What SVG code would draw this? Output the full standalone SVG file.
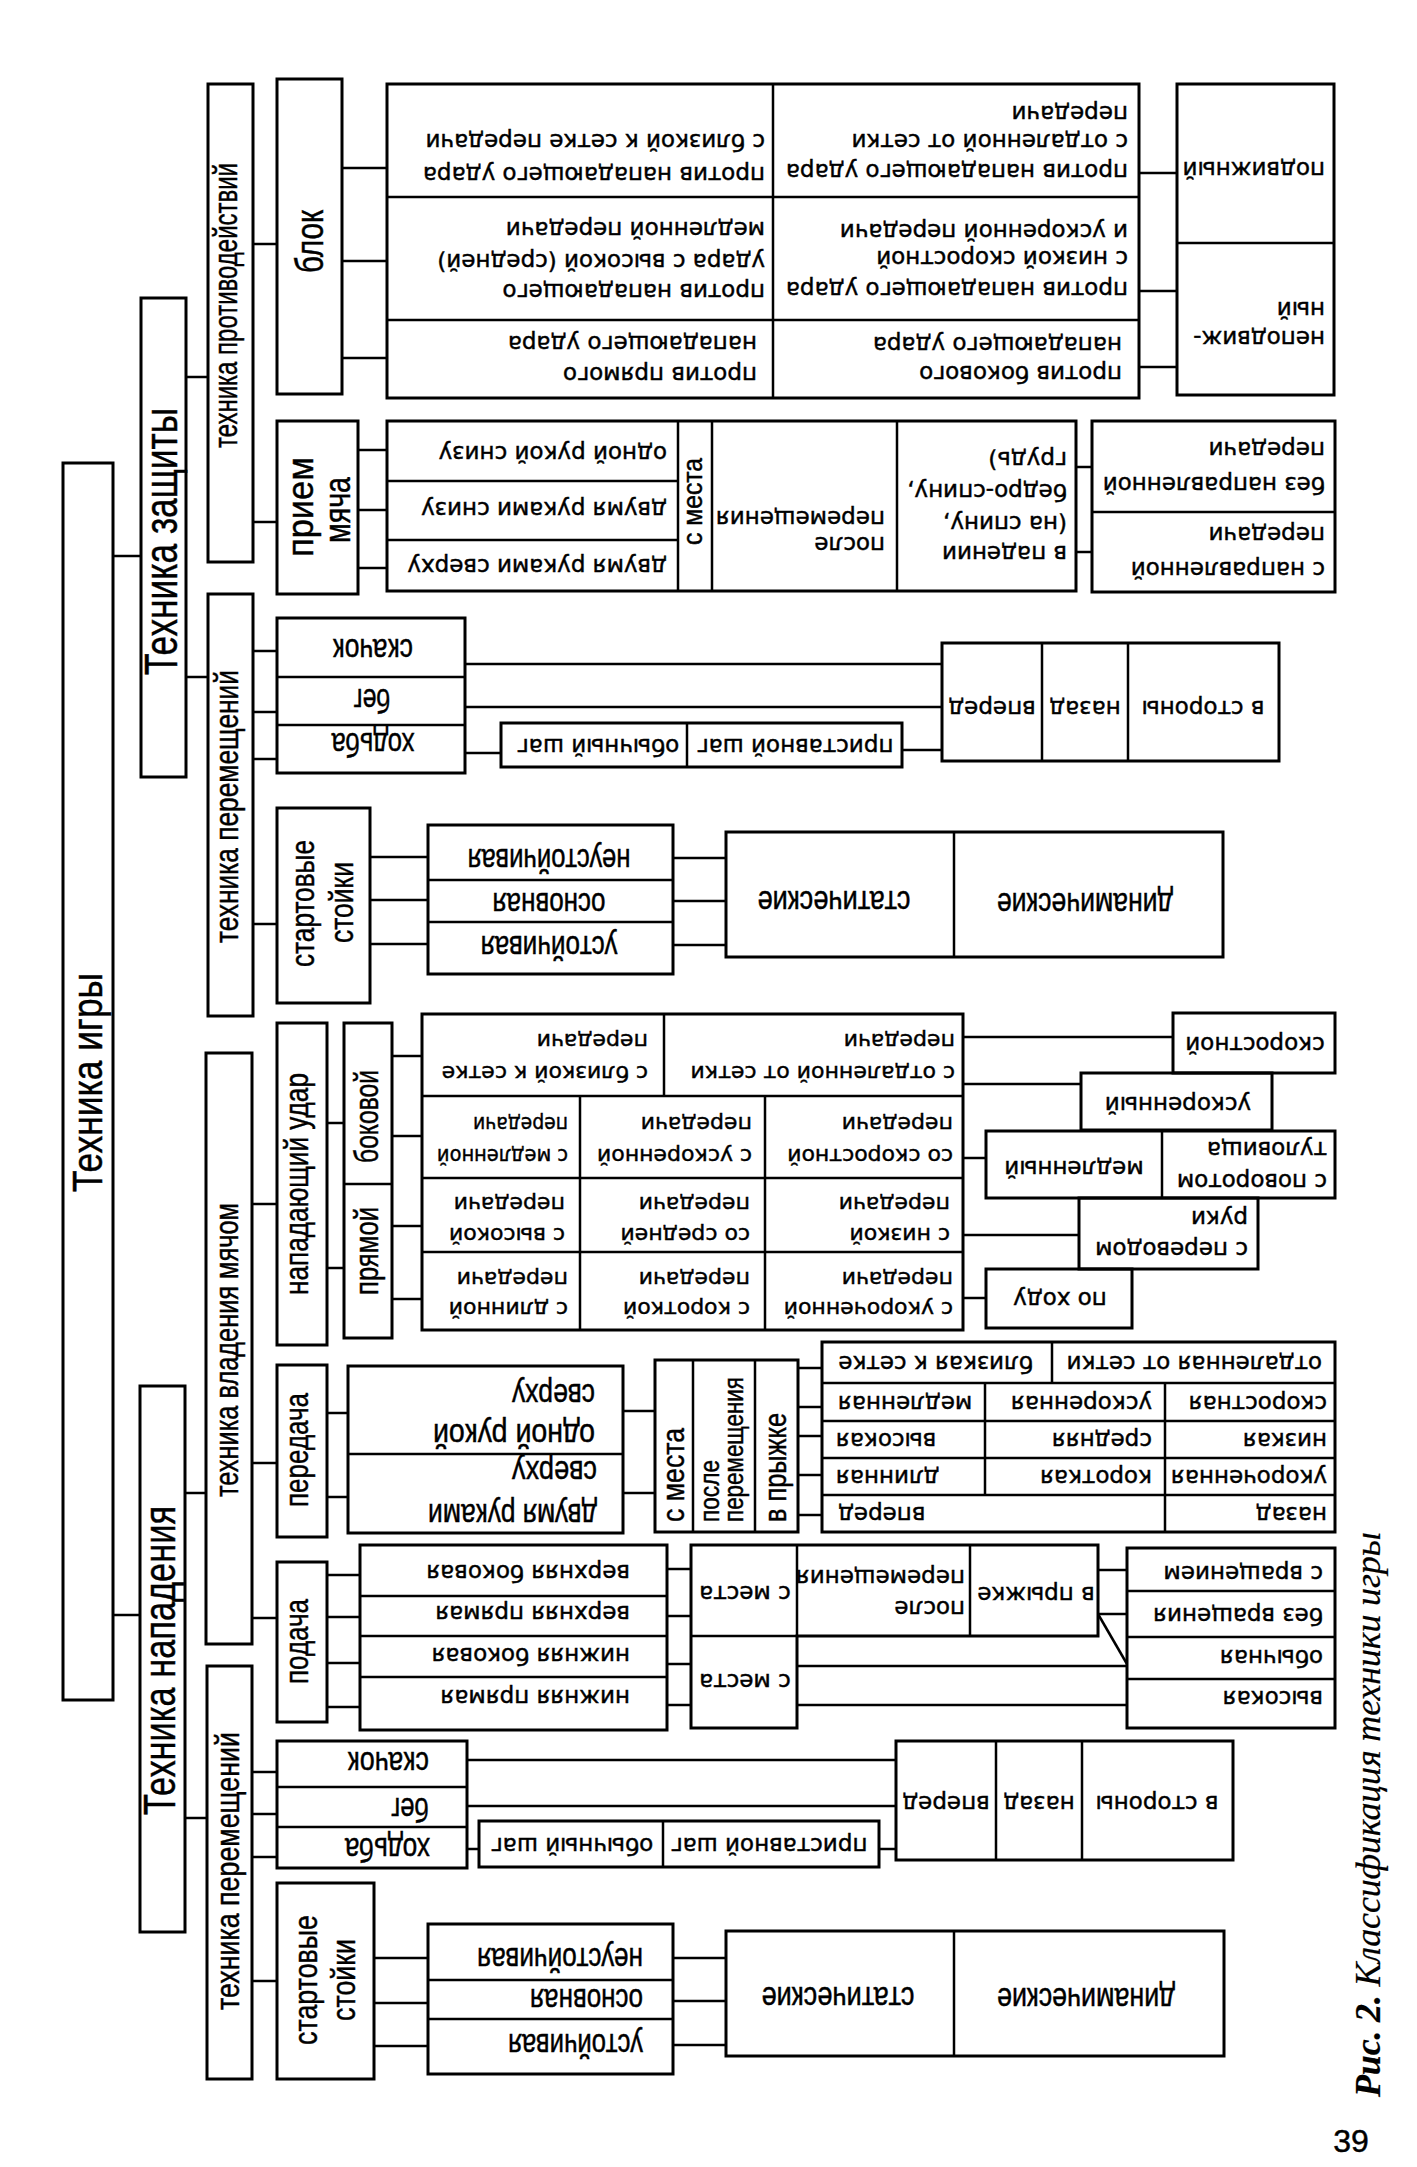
<svg xmlns="http://www.w3.org/2000/svg" width="1417" height="2167" viewBox="0 0 1417 2167">
<style>
.b{fill:none;stroke:#000;stroke-width:3}
.d{fill:none;stroke:#000;stroke-width:2.5}
#connectors line{stroke:#000;stroke-width:2.5}
text{fill:#000;stroke:#000;stroke-width:0.45}
.a{font-family:"DejaVu Sans",sans-serif;font-size:23px}
.s{font-size:22px}
.n{font-family:"Liberation Sans",Arial,sans-serif;font-size:33px}
.v{font-family:"Liberation Sans",Arial,sans-serif;font-size:33px}
.m{text-anchor:middle}
.e{text-anchor:end}
.cap{font-family:"Liberation Serif","Times New Roman",serif;font-style:italic;font-size:36px;stroke-width:0.2}
.pg{font-family:"Liberation Sans",Arial,sans-serif;font-size:32px}
</style>
<rect x="0" y="0" width="1417" height="2167" fill="#fff"/>

<g id="connectors">
<line x1="113" y1="556" x2="141" y2="556"/>
<line x1="113" y1="1615" x2="140" y2="1615"/>
<line x1="186" y1="377" x2="208" y2="377"/>
<line x1="186" y1="677" x2="208" y2="677"/>
<line x1="253" y1="244" x2="277" y2="244"/>
<line x1="253" y1="522" x2="277" y2="522"/>
<line x1="342" y1="168" x2="387" y2="168"/>
<line x1="342" y1="261" x2="387" y2="261"/>
<line x1="342" y1="358" x2="387" y2="358"/>
<line x1="1139" y1="173" x2="1177" y2="173"/>
<line x1="1139" y1="291" x2="1177" y2="291"/>
<line x1="1139" y1="367" x2="1177" y2="367"/>
<line x1="358" y1="450" x2="387" y2="450"/>
<line x1="358" y1="510" x2="387" y2="510"/>
<line x1="358" y1="568" x2="387" y2="568"/>
<line x1="1076" y1="467" x2="1092" y2="467"/>
<line x1="1076" y1="552" x2="1092" y2="552"/>
<line x1="253" y1="651" x2="277" y2="651"/>
<line x1="253" y1="712" x2="277" y2="712"/>
<line x1="253" y1="759" x2="277" y2="759"/>
<line x1="465" y1="664" x2="942" y2="664"/>
<line x1="465" y1="707" x2="942" y2="707"/>
<line x1="465" y1="753" x2="501" y2="753"/>
<line x1="902" y1="750" x2="942" y2="750"/>
<line x1="253" y1="924" x2="277" y2="924"/>
<line x1="370" y1="857" x2="428" y2="857"/>
<line x1="370" y1="900" x2="428" y2="900"/>
<line x1="370" y1="944" x2="428" y2="944"/>
<line x1="673" y1="858" x2="726" y2="858"/>
<line x1="673" y1="901" x2="726" y2="901"/>
<line x1="673" y1="945" x2="726" y2="945"/>
<line x1="185" y1="1493" x2="206" y2="1493"/>
<line x1="185" y1="1818" x2="207" y2="1818"/>
<line x1="252" y1="1204" x2="277" y2="1204"/>
<line x1="252" y1="1463" x2="277" y2="1463"/>
<line x1="252" y1="1618" x2="277" y2="1618"/>
<line x1="327" y1="1123" x2="344" y2="1123"/>
<line x1="327" y1="1268" x2="344" y2="1268"/>
<line x1="392" y1="1056" x2="422" y2="1056"/>
<line x1="392" y1="1136" x2="422" y2="1136"/>
<line x1="392" y1="1226" x2="422" y2="1226"/>
<line x1="392" y1="1299" x2="422" y2="1299"/>
<line x1="963" y1="1037" x2="1173" y2="1037"/>
<line x1="963" y1="1084" x2="1081" y2="1084"/>
<line x1="963" y1="1158" x2="986" y2="1158"/>
<line x1="963" y1="1235" x2="1079" y2="1235"/>
<line x1="963" y1="1298" x2="986" y2="1298"/>
<line x1="327" y1="1413" x2="348" y2="1413"/>
<line x1="327" y1="1497" x2="348" y2="1497"/>
<line x1="623" y1="1411" x2="655" y2="1411"/>
<line x1="623" y1="1493" x2="655" y2="1493"/>
<line x1="798" y1="1368" x2="822" y2="1368"/>
<line x1="798" y1="1407" x2="822" y2="1407"/>
<line x1="798" y1="1436" x2="822" y2="1436"/>
<line x1="798" y1="1475" x2="822" y2="1475"/>
<line x1="798" y1="1515" x2="822" y2="1515"/>
<line x1="327" y1="1575" x2="360" y2="1575"/>
<line x1="327" y1="1617" x2="360" y2="1617"/>
<line x1="327" y1="1663" x2="360" y2="1663"/>
<line x1="327" y1="1707" x2="360" y2="1707"/>
<line x1="667" y1="1569" x2="691" y2="1569"/>
<line x1="667" y1="1616" x2="691" y2="1616"/>
<line x1="667" y1="1664" x2="691" y2="1664"/>
<line x1="667" y1="1705" x2="691" y2="1705"/>
<line x1="1098" y1="1570" x2="1127" y2="1570"/>
<line x1="1098" y1="1614" x2="1127" y2="1614"/>
<line x1="1098" y1="1614" x2="1127" y2="1664"/>
<line x1="797" y1="1666" x2="1127" y2="1666"/>
<line x1="797" y1="1705" x2="1127" y2="1705"/>
<line x1="252" y1="1772" x2="277" y2="1772"/>
<line x1="252" y1="1814" x2="277" y2="1814"/>
<line x1="252" y1="1857" x2="277" y2="1857"/>
<line x1="467" y1="1760" x2="896" y2="1760"/>
<line x1="467" y1="1806" x2="896" y2="1806"/>
<line x1="467" y1="1849" x2="479" y2="1849"/>
<line x1="879" y1="1849" x2="896" y2="1849"/>
<line x1="252" y1="1981" x2="277" y2="1981"/>
<line x1="374" y1="1958" x2="428" y2="1958"/>
<line x1="374" y1="2003" x2="428" y2="2003"/>
<line x1="374" y1="2046" x2="428" y2="2046"/>
<line x1="673" y1="1958" x2="726" y2="1958"/>
<line x1="673" y1="2001" x2="726" y2="2001"/>
<line x1="673" y1="2045" x2="726" y2="2045"/>
</g>

<g id="n-root">
<rect class="b" x="63" y="463" width="50" height="1237"/>
<text class="v" style="font-size:42px" transform="rotate(-90 102 1192)" x="102" y="1192" textLength="219" lengthAdjust="spacingAndGlyphs">Техника игры</text>
</g>

<g id="n-defense">
<rect class="b" x="141" y="298" width="45" height="479"/>
<text class="v" style="font-size:46px" transform="rotate(-90 177 675)" x="177" y="675" textLength="267" lengthAdjust="spacingAndGlyphs">Техника защиты</text>
</g>

<g id="n-counter">
<rect class="b" x="208" y="84" width="45" height="478"/>
<text class="v" transform="rotate(-90 237 448)" x="237" y="448" textLength="285" lengthAdjust="spacingAndGlyphs">техника противодействий</text>
</g>

<g id="n-block">
<rect class="b" x="277" y="79" width="65" height="315"/>
<text class="v" style="font-size:38px" transform="rotate(-90 323 273)" x="323" y="273" textLength="63" lengthAdjust="spacingAndGlyphs">блок</text>
</g>

<g id="n-block-table">
<rect class="b" x="387" y="84" width="752" height="314"/>
<path class="d" d="M773 84V398M387 197H1139M387 320H1139"/>
<text class="a" transform="rotate(180 765 173)" x="765" y="179">против нападающего удара</text>
<text class="a" transform="rotate(180 765 140)" x="765" y="146">с близкой к сетке передачи</text>
<text class="a" transform="rotate(180 765 290)" x="765" y="296">против нападающего</text>
<text class="a" transform="rotate(180 765 260)" x="765" y="266">удара с высокой (средней)</text>
<text class="a" transform="rotate(180 765 228)" x="765" y="234">медленной передачи</text>
<text class="a" transform="rotate(180 757 373)" x="757" y="379">против прямого</text>
<text class="a" transform="rotate(180 757 342)" x="757" y="348">нападающего удара</text>
<text class="a" transform="rotate(180 1128 170)" x="1128" y="176">против нападающего удара</text>
<text class="a" transform="rotate(180 1128 140)" x="1128" y="146">с отдаленной от сетки</text>
<text class="a" transform="rotate(180 1128 112)" x="1128" y="118">передачи</text>
<text class="a" transform="rotate(180 1128 288)" x="1128" y="294">против нападающего удара</text>
<text class="a" transform="rotate(180 1128 257)" x="1128" y="263">с низкой скоростной</text>
<text class="a" transform="rotate(180 1128 230)" x="1128" y="236">и ускоренной передачи</text>
<text class="a" transform="rotate(180 1122 372)" x="1122" y="378">против бокового</text>
<text class="a" transform="rotate(180 1122 343)" x="1122" y="349">нападающего удара</text>
</g>

<g id="n-block-type">
<rect class="b" x="1177" y="84" width="157" height="311"/>
<path class="d" d="M1177 243H1334"/>
<text class="a" transform="rotate(180 1325 168)" x="1325" y="174">подвижный</text>
<text class="a" transform="rotate(180 1325 337)" x="1325" y="343">неподвиж-</text>
<text class="a" transform="rotate(180 1325 308)" x="1325" y="314">ный</text>
</g>

<g id="n-reception">
<rect class="b" x="277" y="421" width="81" height="173"/>
<text class="v m" style="font-size:36px" transform="rotate(-90 313 507)" x="313" y="507" textLength="100" lengthAdjust="spacingAndGlyphs">прием</text>
<text class="v m" style="font-size:36px" transform="rotate(-90 350 510)" x="350" y="510" textLength="66" lengthAdjust="spacingAndGlyphs">мяча</text>
</g>

<g id="n-reception-table">
<rect class="b" x="387" y="421" width="689" height="170"/>
<path class="d" d="M387 481H678M387 540H678M678 421V591M712 421V591M897 421V591"/>
<text class="a" transform="rotate(180 667 452)" x="667" y="458">одной рукой снизу</text>
<text class="a" transform="rotate(180 667 508)" x="667" y="514">двумя руками снизу</text>
<text class="a" transform="rotate(180 667 565)" x="667" y="571">двумя руками сверху</text>
<text class="v" style="font-size:28px" transform="rotate(-90 702 545)" x="702" y="545" textLength="87" lengthAdjust="spacingAndGlyphs">с места</text>
<text class="a" transform="rotate(180 885 543)" x="885" y="549">после</text>
<text class="a" transform="rotate(180 885 517)" x="885" y="523">перемещения</text>
<text class="a" transform="rotate(180 1067 552)" x="1067" y="558">в падении</text>
<text class="a" transform="rotate(180 1067 522)" x="1067" y="528">(на спину,</text>
<text class="a" transform="rotate(180 1067 490)" x="1067" y="496">бедро-спину,</text>
<text class="a" transform="rotate(180 1067 458)" x="1067" y="464">грудь)</text>
</g>

<g id="n-reception-type">
<rect class="b" x="1092" y="421" width="243" height="171"/>
<path class="d" d="M1092 512H1335"/>
<text class="a" transform="rotate(180 1325 483)" x="1325" y="489">без направленной</text>
<text class="a" transform="rotate(180 1325 448)" x="1325" y="454">передачи</text>
<text class="a" transform="rotate(180 1325 568)" x="1325" y="574">с направленной</text>
<text class="a" transform="rotate(180 1325 533)" x="1325" y="539">передачи</text>
</g>

<g id="n-move-def">
<rect class="b" x="208" y="594" width="45" height="422"/>
<text class="v" transform="rotate(-90 238 943)" x="238" y="943" textLength="273" lengthAdjust="spacingAndGlyphs">техника перемещений</text>
</g>

<g id="n-move-def-kind">
<rect class="b" x="277" y="618" width="188" height="155"/>
<path class="d" d="M277 677H465M277 725H465"/>
<text class="n m" transform="rotate(180 373 648)" x="373" y="657" textLength="80" lengthAdjust="spacingAndGlyphs">скачок</text>
<text class="n m" transform="rotate(180 372 698)" x="372" y="707" textLength="37" lengthAdjust="spacingAndGlyphs">бег</text>
<text class="n m" transform="rotate(180 373 742)" x="373" y="751" textLength="83" lengthAdjust="spacingAndGlyphs">ходьба</text>
</g>

<g id="n-step-def">
<rect class="b" x="501" y="723" width="401" height="44"/>
<path class="d" d="M687 723V767"/>
<text class="a m" transform="rotate(180 598 745)" x="598" y="751">обычный шаг</text>
<text class="a m" transform="rotate(180 795 745)" x="795" y="751">приставной шаг</text>
</g>

<g id="n-dir-def">
<rect class="b" x="942" y="643" width="337" height="118"/>
<path class="d" d="M1042 643V761M1128 643V761"/>
<text class="a m" transform="rotate(180 992 707)" x="992" y="713">вперед</text>
<text class="a m" transform="rotate(180 1085 707)" x="1085" y="713">назад</text>
<text class="a m" transform="rotate(180 1203 707)" x="1203" y="713">в стороны</text>
</g>

<g id="n-stance-def">
<rect class="b" x="277" y="808" width="93" height="195"/>
<text class="v" style="font-size:34px" transform="rotate(-90 314 967)" x="314" y="967" textLength="127" lengthAdjust="spacingAndGlyphs">стартовые</text>
<text class="v" style="font-size:34px" transform="rotate(-90 353 943)" x="353" y="943" textLength="81" lengthAdjust="spacingAndGlyphs">стойки</text>
</g>

<g id="n-stance-def-kind">
<rect class="b" x="428" y="825" width="245" height="149"/>
<path class="d" d="M428 880H673M428 922H673"/>
<text class="n m" transform="rotate(180 549 858)" x="549" y="867" textLength="163" lengthAdjust="spacingAndGlyphs">неустойчивая</text>
<text class="n m" transform="rotate(180 549 902)" x="549" y="911" textLength="113" lengthAdjust="spacingAndGlyphs">основная</text>
<text class="n m" transform="rotate(180 549 945)" x="549" y="954" textLength="137" lengthAdjust="spacingAndGlyphs">устойчивая</text>
</g>

<g id="n-stance-def-type">
<rect class="b" x="726" y="832" width="497" height="125"/>
<path class="d" d="M954 832V957"/>
<text class="n m" transform="rotate(180 834 900)" x="834" y="909" textLength="153" lengthAdjust="spacingAndGlyphs">статические</text>
<text class="n m" transform="rotate(180 1085 902)" x="1085" y="911" textLength="176" lengthAdjust="spacingAndGlyphs">динамические</text>
</g>

<g id="n-attack">
<rect class="b" x="140" y="1386" width="45" height="546"/>
<text class="v" style="font-size:45px" transform="rotate(-90 175 1815)" x="175" y="1815" textLength="309" lengthAdjust="spacingAndGlyphs">Техника нападения</text>
</g>

<g id="n-ball">
<rect class="b" x="206" y="1053" width="46" height="591"/>
<text class="v" transform="rotate(-90 238 1497)" x="238" y="1497" textLength="294" lengthAdjust="spacingAndGlyphs">техника владения мячом</text>
</g>

<g id="n-spike">
<rect class="b" x="277" y="1023" width="50" height="322"/>
<text class="v" transform="rotate(-90 308 1295)" x="308" y="1295" textLength="222" lengthAdjust="spacingAndGlyphs">нападающий удар</text>
</g>

<g id="n-spike-kind">
<rect class="b" x="344" y="1023" width="48" height="315"/>
<path class="d" d="M344 1184H392"/>
<text class="v" style="font-size:34px" transform="rotate(-90 378 1163)" x="378" y="1163" textLength="93" lengthAdjust="spacingAndGlyphs">боковой</text>
<text class="v" style="font-size:34px" transform="rotate(-90 378 1295)" x="378" y="1295" textLength="88" lengthAdjust="spacingAndGlyphs">прямой</text>
</g>

<g id="n-spike-table">
<rect class="b" x="422" y="1014" width="541" height="316"/>
<path class="d" d="M422 1096H963M422 1178H963M422 1252H963M664 1014V1096M580 1096V1330M765 1096V1330"/>
<text class="a s" transform="rotate(180 648 1072)" x="648" y="1078">с близкой к сетке</text>
<text class="a s" transform="rotate(180 648 1040)" x="648" y="1046">передачи</text>
<text class="a s" transform="rotate(180 955 1072)" x="955" y="1078">с отдаленной от сетки</text>
<text class="a s" transform="rotate(180 955 1040)" x="955" y="1046">передачи</text>
<text class="a s" transform="rotate(180 568 1155)" x="568" y="1161" textLength="131" lengthAdjust="spacingAndGlyphs">с медленной</text>
<text class="a s" transform="rotate(180 568 1123)" x="568" y="1129" textLength="95" lengthAdjust="spacingAndGlyphs">передачи</text>
<text class="a s" transform="rotate(180 752 1155)" x="752" y="1161">с ускоренной</text>
<text class="a s" transform="rotate(180 752 1123)" x="752" y="1129">передачи</text>
<text class="a s" transform="rotate(180 953 1155)" x="953" y="1161">со скоростной</text>
<text class="a s" transform="rotate(180 953 1123)" x="953" y="1129">передачи</text>
<text class="a s" transform="rotate(180 565 1234)" x="565" y="1240">с высокой</text>
<text class="a s" transform="rotate(180 565 1203)" x="565" y="1209">передачи</text>
<text class="a s" transform="rotate(180 750 1234)" x="750" y="1240">со средней</text>
<text class="a s" transform="rotate(180 750 1203)" x="750" y="1209">передачи</text>
<text class="a s" transform="rotate(180 950 1234)" x="950" y="1240">с низкой</text>
<text class="a s" transform="rotate(180 950 1203)" x="950" y="1209">передачи</text>
<text class="a s" transform="rotate(180 568 1308)" x="568" y="1314">с длинной</text>
<text class="a s" transform="rotate(180 568 1278)" x="568" y="1284">передачи</text>
<text class="a s" transform="rotate(180 750 1308)" x="750" y="1314">с короткой</text>
<text class="a s" transform="rotate(180 750 1278)" x="750" y="1284">передачи</text>
<text class="a s" transform="rotate(180 953 1308)" x="953" y="1314">с укороченной</text>
<text class="a s" transform="rotate(180 953 1278)" x="953" y="1284">передачи</text>
</g>

<g id="n-spike-fast">
<rect class="b" x="1173" y="1013" width="162" height="60"/>
<text class="a m" transform="rotate(180 1255 1043)" x="1255" y="1049">скоростной</text>
</g>
<g id="n-spike-accel">
<rect class="b" x="1081" y="1073" width="191" height="57"/>
<text class="a m" transform="rotate(180 1178 1103)" x="1178" y="1109">ускоренный</text>
</g>
<g id="n-spike-slow">
<rect class="b" x="986" y="1131" width="349" height="67"/>
<path class="d" d="M1162 1131V1198"/>
<text class="a m" transform="rotate(180 1074 1167)" x="1074" y="1173">медленный</text>
<text class="a" transform="rotate(180 1327 1180)" x="1327" y="1186">с поворотом</text>
<text class="a" transform="rotate(180 1327 1148)" x="1327" y="1154">туловища</text>
</g>
<g id="n-spike-arm">
<rect class="b" x="1079" y="1198" width="179" height="71"/>
<text class="a" transform="rotate(180 1248 1248)" x="1248" y="1254">с переводом</text>
<text class="a" transform="rotate(180 1248 1217)" x="1248" y="1223">руки</text>
</g>
<g id="n-spike-run">
<rect class="b" x="986" y="1269" width="146" height="59"/>
<text class="a m" transform="rotate(180 1060 1298)" x="1060" y="1304">по ходу</text>
</g>

<g id="n-pass">
<rect class="b" x="277" y="1365" width="50" height="172"/>
<text class="v" style="font-size:34px" transform="rotate(-90 308 1507)" x="308" y="1507" textLength="114" lengthAdjust="spacingAndGlyphs">передача</text>
</g>

<g id="n-pass-hands">
<rect class="b" x="348" y="1366" width="275" height="167"/>
<path class="d" d="M348 1454H623"/>
<text class="n" transform="rotate(180 595 1433)" x="595" y="1442" textLength="162" lengthAdjust="spacingAndGlyphs">одной рукой</text>
<text class="n" transform="rotate(180 595 1393)" x="595" y="1402" textLength="83" lengthAdjust="spacingAndGlyphs">сверху</text>
<text class="n" transform="rotate(180 597 1513)" x="597" y="1522" textLength="169" lengthAdjust="spacingAndGlyphs">двумя руками</text>
<text class="n" transform="rotate(180 597 1470)" x="597" y="1479" textLength="85" lengthAdjust="spacingAndGlyphs">сверху</text>
</g>

<g id="n-pass-place">
<rect class="b" x="655" y="1360" width="143" height="172"/>
<path class="d" d="M693 1360V1532M755 1360V1532"/>
<text class="v" style="font-size:32px" transform="rotate(-90 684 1522)" x="684" y="1522" textLength="94" lengthAdjust="spacingAndGlyphs">с места</text>
<text class="v" style="font-size:28px" transform="rotate(-90 719 1522)" x="719" y="1522" textLength="62" lengthAdjust="spacingAndGlyphs">после</text>
<text class="v" style="font-size:28px" transform="rotate(-90 743 1522)" x="743" y="1522" textLength="145" lengthAdjust="spacingAndGlyphs">перемещения</text>
<text class="v" style="font-size:32px" transform="rotate(-90 786 1522)" x="786" y="1522" textLength="109" lengthAdjust="spacingAndGlyphs">в прыжке</text>
</g>

<g id="n-pass-table">
<rect class="b" x="822" y="1342" width="513" height="190"/>
<path class="d" d="M822 1383H1335M822 1421H1335M822 1458H1335M822 1495H1335M1052 1342V1383M985 1383V1495M1165 1383V1532"/>
<text class="a" transform="rotate(180 1033 1362)" x="1033" y="1368">близкая к сетке</text>
<text class="a" transform="rotate(180 1322 1362)" x="1322" y="1368">отдаленная от сетки</text>
<text class="a e" transform="rotate(180 838 1402)" x="838" y="1408">медленная</text>
<text class="a" transform="rotate(180 1152 1402)" x="1152" y="1408">ускоренная</text>
<text class="a" transform="rotate(180 1327 1402)" x="1327" y="1408">скоростная</text>
<text class="a e" transform="rotate(180 836 1439)" x="836" y="1445">высокая</text>
<text class="a" transform="rotate(180 1152 1439)" x="1152" y="1445">средняя</text>
<text class="a" transform="rotate(180 1327 1439)" x="1327" y="1445">низкая</text>
<text class="a e" transform="rotate(180 836 1476)" x="836" y="1482">длинная</text>
<text class="a" transform="rotate(180 1152 1476)" x="1152" y="1482">короткая</text>
<text class="a" transform="rotate(180 1327 1476)" x="1327" y="1482">укороченная</text>
<text class="a e" transform="rotate(180 838 1513)" x="838" y="1519">вперед</text>
<text class="a" transform="rotate(180 1327 1513)" x="1327" y="1519">назад</text>
</g>

<g id="n-serve">
<rect class="b" x="277" y="1562" width="50" height="160"/>
<text class="v" style="font-size:34px" transform="rotate(-90 308 1684)" x="308" y="1684" textLength="85" lengthAdjust="spacingAndGlyphs">подача</text>
</g>

<g id="n-serve-kind">
<rect class="b" x="360" y="1545" width="307" height="185"/>
<path class="d" d="M360 1596H667M360 1636H667M360 1677H667"/>
<text class="a" transform="rotate(180 630 1571)" x="630" y="1577">верхняя боковая</text>
<text class="a" transform="rotate(180 630 1612)" x="630" y="1618">верхняя прямая</text>
<text class="a" transform="rotate(180 630 1654)" x="630" y="1660">нижняя боковая</text>
<text class="a" transform="rotate(180 630 1696)" x="630" y="1702">нижняя прямая</text>
</g>

<g id="n-serve-place">
<path class="b" d="M691 1545H1098V1636H797V1728H691Z"/>
<path class="d" d="M691 1636H797M797 1545V1636M970 1545V1636"/>
<text class="a m" transform="rotate(180 745 1592)" x="745" y="1598">с места</text>
<text class="a m" transform="rotate(180 745 1680)" x="745" y="1686">с места</text>
<text class="a" transform="rotate(180 965 1607)" x="965" y="1613">после</text>
<text class="a" transform="rotate(180 965 1576)" x="965" y="1582">перемещения</text>
<text class="a m" transform="rotate(180 1036 1593)" x="1036" y="1599">в прыжке</text>
</g>

<g id="n-serve-type">
<rect class="b" x="1127" y="1548" width="208" height="180"/>
<path class="d" d="M1127 1591H1335M1127 1637H1335M1127 1679H1335"/>
<text class="a" transform="rotate(180 1323 1572)" x="1323" y="1578">с вращением</text>
<text class="a" transform="rotate(180 1323 1614)" x="1323" y="1620">без вращения</text>
<text class="a" transform="rotate(180 1323 1656)" x="1323" y="1662">обычная</text>
<text class="a" transform="rotate(180 1323 1697)" x="1323" y="1703">высокая</text>
</g>

<g id="n-move-att">
<rect class="b" x="207" y="1666" width="45" height="413"/>
<text class="v" transform="rotate(-90 239 2010)" x="239" y="2010" textLength="278" lengthAdjust="spacingAndGlyphs">техника перемещений</text>
</g>

<g id="n-move-att-kind">
<rect class="b" x="277" y="1741" width="190" height="127"/>
<path class="d" d="M277 1787H467M277 1827H467"/>
<text class="n" transform="rotate(180 429 1761)" x="429" y="1770" textLength="81" lengthAdjust="spacingAndGlyphs">скачок</text>
<text class="n" transform="rotate(180 429 1807)" x="429" y="1816" textLength="38" lengthAdjust="spacingAndGlyphs">бег</text>
<text class="n" transform="rotate(180 430 1847)" x="430" y="1856" textLength="85" lengthAdjust="spacingAndGlyphs">ходьба</text>
</g>

<g id="n-step-att">
<rect class="b" x="479" y="1821" width="400" height="46"/>
<path class="d" d="M663 1821V1867"/>
<text class="a m" transform="rotate(180 572 1844)" x="572" y="1850">обычный шаг</text>
<text class="a m" transform="rotate(180 769 1844)" x="769" y="1850">приставной шаг</text>
</g>

<g id="n-dir-att">
<rect class="b" x="896" y="1741" width="337" height="119"/>
<path class="d" d="M996 1741V1860M1082 1741V1860"/>
<text class="a m" transform="rotate(180 946 1802)" x="946" y="1808">вперед</text>
<text class="a m" transform="rotate(180 1039 1802)" x="1039" y="1808">назад</text>
<text class="a m" transform="rotate(180 1157 1802)" x="1157" y="1808">в стороны</text>
</g>

<g id="n-stance-att">
<rect class="b" x="277" y="1883" width="97" height="196"/>
<text class="v" style="font-size:34px" transform="rotate(-90 317 2045)" x="317" y="2045" textLength="130" lengthAdjust="spacingAndGlyphs">стартовые</text>
<text class="v" style="font-size:34px" transform="rotate(-90 355 2021)" x="355" y="2021" textLength="82" lengthAdjust="spacingAndGlyphs">стойки</text>
</g>

<g id="n-stance-att-kind">
<rect class="b" x="428" y="1924" width="245" height="150"/>
<path class="d" d="M428 1980H673M428 2019H673"/>
<text class="n" transform="rotate(180 643 1957)" x="643" y="1966" textLength="166" lengthAdjust="spacingAndGlyphs">неустойчивая</text>
<text class="n" transform="rotate(180 643 1998)" x="643" y="2007" textLength="113" lengthAdjust="spacingAndGlyphs">основная</text>
<text class="n" transform="rotate(180 643 2043)" x="643" y="2052" textLength="135" lengthAdjust="spacingAndGlyphs">устойчивая</text>
</g>

<g id="n-stance-att-type">
<rect class="b" x="726" y="1931" width="498" height="125"/>
<path class="d" d="M954 1931V2056"/>
<text class="n m" transform="rotate(180 838 1996)" x="838" y="2005" textLength="153" lengthAdjust="spacingAndGlyphs">статические</text>
<text class="n m" transform="rotate(180 1086 1997)" x="1086" y="2006" textLength="178" lengthAdjust="spacingAndGlyphs">динамические</text>
</g>

<g id="caption">
<text class="cap" transform="rotate(-90 1380 2097)" x="1380" y="2097" textLength="565" lengthAdjust="spacing"><tspan font-weight="bold">Рис. 2.</tspan> Классификация техники игры</text>
<text class="pg m" x="1351" y="2152">39</text>
</g>
</svg>
